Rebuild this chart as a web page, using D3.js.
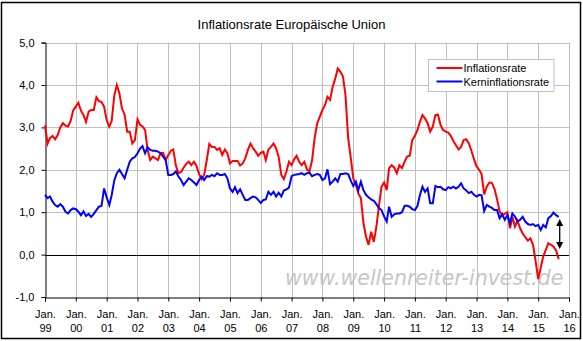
<!DOCTYPE html>
<html>
<head>
<meta charset="utf-8">
<script src="https://cdn.jsdelivr.net/npm/d3@7"></script>
<style>
  html, body { margin: 0; padding: 0; background: #fff; }
  svg { display: block; }
  text { font-family: "Liberation Sans", Arial, sans-serif; fill: #000; }
</style>
</head>
<body>
<svg id="chart" width="583" height="341"></svg>
<script>
// Monthly rates, January 1999 onwards (in %)
const firstMonth = new Date(1999, 0, 1);

const inflation = [
  3.05, 2.62, 2.75, 2.80, 2.72, 2.82, 3.00, 3.10, 3.04, 3.02, 3.15, 3.40,   // 1999
  3.49, 3.58, 3.40, 3.29, 3.13, 3.37, 3.41, 3.41, 3.71, 3.62, 3.60, 3.49,   // 2000
  3.17, 3.02, 3.15, 3.75, 4.00, 3.80, 3.45, 3.30, 2.90, 2.90, 2.62, 2.70,   // 2001
  3.19, 3.06, 3.02, 2.94, 2.47, 2.23, 2.31, 2.27, 2.23, 2.39, 2.40, 2.23,   // 2002
  2.35, 2.45, 2.48, 2.10, 1.92, 1.95, 2.05, 2.14, 2.19, 2.11, 2.19, 2.09,   // 2003
  1.90, 1.78, 1.88, 2.23, 2.61, 2.54, 2.54, 2.47, 2.51, 2.35, 2.48, 2.39,   // 2004
  2.15, 2.21, 2.21, 2.21, 2.10, 2.15, 2.27, 2.47, 2.62, 2.51, 2.43, 2.33,   // 2005
  2.40, 2.43, 2.23, 2.48, 2.54, 2.62, 2.51, 2.30, 1.88, 1.78, 1.96, 2.19,   // 2006
  2.11, 2.25, 2.33, 2.19, 2.11, 2.19, 2.01, 1.96, 2.23, 2.75, 3.10, 3.25,   // 2007
  3.41, 3.53, 3.72, 3.65, 3.95, 4.15, 4.39, 4.31, 4.20, 3.75, 2.75, 2.30,   // 2008
  1.80, 1.64, 1.45, 1.33, 0.75, 0.42, 0.23, 0.54, 0.30, 0.65, 1.15, 1.60,   // 2009
  1.70, 1.52, 2.04, 2.11, 2.05, 1.92, 2.11, 2.04, 2.19, 2.31, 2.33, 2.70,   // 2010
  2.80, 2.94, 3.13, 3.29, 3.21, 3.10, 2.90, 3.02, 3.29, 3.30, 3.06, 2.94,   // 2011
  2.90, 2.88, 2.80, 2.68, 2.58, 2.48, 2.54, 2.70, 2.72, 2.62, 2.45, 2.25,   // 2012
  2.08, 2.00, 1.90, 1.42, 1.60, 1.70, 1.69, 1.55, 1.30, 1.02, 0.93, 0.96,   // 2013
  1.00, 0.62, 0.89, 0.66, 0.80, 0.62, 0.50, 0.41, 0.33, 0.38, 0.23, -0.15,  // 2014
  -0.58, -0.30, -0.05, 0.11, 0.27, 0.23, 0.19, 0.10, -0.11                  // 2015
];

const coreInflation = [
  1.41, 1.33, 1.37, 1.25, 1.17, 1.13, 1.19, 1.13, 1.01, 0.97, 1.05, 1.09,   // 1999
  1.07, 1.01, 0.93, 1.02, 0.91, 0.96, 0.89, 0.96, 1.05, 1.13, 1.15, 1.56,   // 2000
  1.35, 1.17, 1.40, 1.75, 1.92, 2.00, 1.90, 1.80, 2.00, 2.19, 2.27, 2.30,   // 2001
  2.39, 2.50, 2.56, 2.39, 2.53, 2.47, 2.45, 2.45, 2.43, 2.39, 2.31, 2.23,   // 2002
  1.88, 1.88, 1.90, 1.96, 1.84, 1.76, 1.64, 1.72, 1.80, 1.76, 1.70, 1.64,   // 2003
  1.76, 1.84, 1.76, 1.85, 1.84, 1.88, 1.85, 1.92, 1.88, 1.88, 1.90, 1.80,   // 2004
  1.56, 1.48, 1.59, 1.45, 1.54, 1.41, 1.29, 1.29, 1.33, 1.37, 1.35, 1.29,   // 2005
  1.22, 1.29, 1.30, 1.48, 1.41, 1.48, 1.37, 1.46, 1.37, 1.51, 1.54, 1.58,   // 2006
  1.85, 1.88, 1.89, 1.90, 1.92, 1.88, 1.92, 1.93, 1.85, 1.88, 1.90, 1.88,   // 2007
  1.76, 1.80, 2.01, 1.66, 1.72, 1.80, 1.72, 1.90, 1.90, 1.92, 1.90, 1.75,   // 2008
  1.62, 1.72, 1.52, 1.72, 1.52, 1.41, 1.35, 1.30, 1.27, 1.19, 1.10, 1.05,   // 2009
  0.90, 0.78, 1.13, 0.89, 0.95, 0.97, 0.97, 1.00, 1.15, 1.15, 1.13, 1.07,   // 2010
  1.05, 1.15, 1.40, 1.60, 1.48, 1.56, 1.21, 1.21, 1.62, 1.59, 1.60, 1.54,   // 2011
  1.52, 1.59, 1.56, 1.60, 1.56, 1.60, 1.68, 1.56, 1.51, 1.45, 1.48, 1.41,   // 2012
  1.37, 1.41, 1.40, 1.03, 1.17, 1.13, 1.10, 1.05, 1.05, 0.86, 0.95, 0.82,   // 2013
  0.93, 0.74, 0.97, 0.90, 0.78, 0.82, 0.89, 0.78, 0.72, 0.70, 0.72, 0.67,   // 2014
  0.70, 0.58, 0.70, 0.64, 0.86, 0.91, 0.99, 0.93, 0.89                      // 2015
];

const seriesNames = ["Inflationsrate", "Kerninflationsrate"];
const seriesColors = ["#ff0000", "#0000ff"];

const yTicks = [-1, 0, 1, 2, 3, 4, 5];
const xYearLabels = ["99", "00", "01", "02", "03", "04", "05", "06", "07",
                     "08", "09", "10", "11", "12", "13", "14", "15", "16"];
const monthLabel = "Jan.";

const titleText = "Inflationsrate Europäische Union";
const watermarkText = "www.wellenreiter-invest.de";

// ---------------------------------------------------------------
const svg = d3.select("#chart");
const W = 583, H = 341;
const plot = { left: 45, right: 569, top: 42.6, bottom: 297 };

const x = d3.scaleTime()
  .domain([firstMonth, new Date(2016, 0, 1)])
  .range([plot.left, plot.right]);
const y = d3.scaleLinear()
  .domain([-1, 5])
  .range([plot.bottom, plot.top]);

const de = d3.formatLocale({ decimal: ",", thousands: ".", grouping: [3], currency: ["", " €"], minus: "-" });
const fmt = de.format(".1f");

const dated = arr => arr.map((v, i) => ({ date: d3.timeMonth.offset(firstMonth, i), value: v }));
const series = [dated(inflation), dated(coreInflation)];

// outer frame
svg.append("rect")
  .attr("x", 1.5).attr("y", 2.5)
  .attr("width", W - 4).attr("height", H - 5)
  .attr("fill", "#fff").attr("stroke", "#000").attr("stroke-width", 1.5);

// title
svg.append("text")
  .attr("x", W / 2).attr("y", 29)
  .attr("text-anchor", "middle")
  .style("font-size", "13px")
  .text(titleText);

// watermark sits behind the grid
svg.append("text")
  .attr("x", 285).attr("y", 285)
  .style("font-family", "'DejaVu Sans', Verdana, sans-serif")
  .style("font-style", "italic")
  .style("font-size", "20.5px")
  .style("fill", "#c6c6c6")
  .text(watermarkText);

const yearTickDates = xYearLabels.map((_, i) => new Date(1999 + i, 0, 1));

// gridlines
const grid = svg.append("g");
grid.selectAll("line.v")
  .data(yearTickDates.slice(1))
  .join("line")
  .attr("x1", d => Math.round(x(d)) + 0.5).attr("x2", d => Math.round(x(d)) + 0.5)
  .attr("y1", plot.top).attr("y2", plot.bottom)
  .attr("stroke", "#c0c0c0").attr("stroke-width", 1);
grid.selectAll("line.h")
  .data(yTicks.filter(d => d > 0))
  .join("line")
  .attr("x1", plot.left).attr("x2", plot.right)
  .attr("y1", d => Math.round(y(d)) + 0.5).attr("y2", d => Math.round(y(d)) + 0.5)
  .attr("stroke", "#c0c0c0").attr("stroke-width", 1);

// zero line
svg.append("line")
  .attr("x1", plot.left).attr("x2", plot.right)
  .attr("y1", Math.round(y(0)) + 0.5).attr("y2", Math.round(y(0)) + 0.5)
  .attr("stroke", "#000").attr("stroke-width", 1);

// y axis
const yAxis = svg.append("g")
  .attr("transform", `translate(${plot.left + 0.5},0)`)
  .call(d3.axisLeft(y).tickValues(yTicks).tickSize(4).tickPadding(7).tickFormat(fmt));
yAxis.select(".domain").attr("stroke", "#000");
yAxis.selectAll(".tick line").attr("stroke", "#000");
yAxis.selectAll(".tick text")
  .style("font-family", "'Liberation Sans', Arial, sans-serif")
  .style("font-size", "11px")
  .attr("fill", d => d < 0 ? "#ff0000" : "#000");

// x axis
const xAxis = svg.append("g")
  .attr("transform", `translate(0,${plot.bottom + 0.5})`)
  .call(d3.axisBottom(x).tickValues(yearTickDates).tickSize(4).tickFormat(""));
xAxis.select(".domain").attr("stroke", "#000");
xAxis.selectAll(".tick line").attr("stroke", "#000");
xAxis.selectAll(".tick text").remove();
xAxis.selectAll(".tick").each(function (d, i) {
  const g = d3.select(this);
  g.append("text").attr("y", 20).attr("text-anchor", "middle")
    .style("font-size", "11px").attr("fill", "#000").text(monthLabel);
  g.append("text").attr("y", 34).attr("text-anchor", "middle")
    .style("font-size", "11px").attr("fill", "#000").text(xYearLabels[i]);
});

// series lines
const line = d3.line().x(d => x(d.date)).y(d => y(d.value));
svg.append("g").selectAll("path")
  .data(series)
  .join("path")
  .attr("d", line)
  .attr("fill", "none")
  .attr("stroke", (d, i) => seriesColors[i])
  .attr("stroke-width", 2)
  .attr("stroke-linejoin", "miter");

// double-headed arrow between the two latest values
const lastDate = series[1][series[1].length - 1].date;
const ax = x(lastDate) + 1;
const aTop = y(0.84), aBot = y(0.13);
const arrow = svg.append("g").attr("fill", "#000").attr("stroke", "#000");
arrow.append("line")
  .attr("x1", ax).attr("x2", ax).attr("y1", aTop + 5).attr("y2", aBot - 5)
  .attr("stroke-width", 1.3);
arrow.append("path")
  .attr("d", `M${ax},${aTop} L${ax - 3.5},${aTop + 7} L${ax + 3.5},${aTop + 7} Z`)
  .attr("stroke", "none");
arrow.append("path")
  .attr("d", `M${ax},${aBot} L${ax - 3.5},${aBot - 7} L${ax + 3.5},${aBot - 7} Z`)
  .attr("stroke", "none");

// legend
const legend = svg.append("g").attr("transform", "translate(428.5,59.5)");
legend.append("rect")
  .attr("width", 125.5).attr("height", 32)
  .attr("fill", "#fff").attr("stroke", "#c0c0c0").attr("stroke-width", 1);
seriesNames.forEach((name, i) => {
  const ly = 8.5 + i * 13.5;
  legend.append("line")
    .attr("x1", 8).attr("x2", 34).attr("y1", ly).attr("y2", ly)
    .attr("stroke", seriesColors[i]).attr("stroke-width", 2);
  legend.append("text")
    .attr("x", 35).attr("y", ly + 4)
    .style("font-size", "11px")
    .text(name);
});
</script>
</body>
</html>
